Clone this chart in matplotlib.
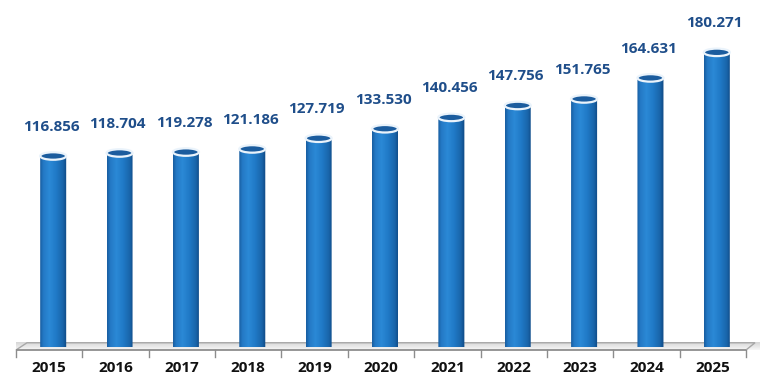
import matplotlib
matplotlib.use('Agg')
import matplotlib.pyplot as plt
import numpy as np
from matplotlib.path import Path
from matplotlib.patches import Ellipse, Polygon, PathPatch
from matplotlib.colors import LinearSegmentedColormap

years = ['2015', '2016', '2017', '2018', '2019', '2020', '2021', '2022', '2023', '2024', '2025']
values = [116.856, 118.704, 119.278, 121.186, 127.719, 133.530, 140.456, 147.756, 151.765, 164.631, 180.271]
value_labels = ['116.856', '118.704', '119.278', '121.186', '127.719', '133.530',
                '140.456', '147.756', '151.765', '164.631', '180.271']

W, H = 768, 386
PX = 1.6345          # pixels per data unit (vertical)
XPX = 66.36          # pixels per category (horizontal)

fig = plt.figure(figsize=(W / 100, H / 100), dpi=100)
fig.patch.set_facecolor('white')
ax = fig.add_axes([16 / W, (H - 347) / H, 730 / W, 347 / H])
ax.axis('off')

font = ['Open Sans', 'DejaVu Sans']

x = np.arange(len(years))
bar_w = 26 / XPX
shift = 4 / XPX
eh = 7.5 / PX  # ellipse full height in data units

cyl = LinearSegmentedColormap.from_list('cyl', [
    (0.0, '#185da0'), (0.12, '#2479c5'), (0.35, '#2b89d6'),
    (0.6, '#207ac7'), (0.85, '#1965aa'), (1.0, '#0f4882')])
floor_cm = LinearSegmentedColormap.from_list('fl', ['#f7f7f7', '#d6d6d6'])

# floor
fy_front = -1.84
fy_back = 2.6
floor_pts = [(-0.5, fy_front), (-0.5 + 11 / XPX, fy_back),
             (10.5 + 9 / XPX, fy_back), (10.5, fy_front)]
floor = Polygon(floor_pts, closed=True, facecolor='none', edgecolor='#a8a8a8',
                lw=1.0, clip_on=False, zorder=2)
ax.add_patch(floor)
fg = np.linspace(0, 1, 50).reshape(-1, 1)
im = ax.imshow(fg, extent=[-0.5, 10.7, fy_front, fy_back], origin='lower',
               aspect='auto', cmap=floor_cm, zorder=1, clip_on=False)
im.set_clip_path(floor)
ax.plot([-0.5, 10.5], [fy_front, fy_front], color='#8c8c8c', lw=1.1,
        clip_on=False, zorder=3, solid_capstyle='butt')
tick_len = 7 / PX
for k in range(len(years) + 1):
    ax.plot([-0.5 + k, -0.5 + k], [fy_front, fy_front - tick_len], color='#8c8c8c',
            lw=1.0, clip_on=False, zorder=3)

# bars
bars = ax.bar(x + shift, values, width=bar_w, color='none', edgecolor='none', zorder=4)
grad = np.linspace(0, 1, 100).reshape(1, -1)
for b, v, lab in zip(bars, values, value_labels):
    x0 = b.get_x()
    x1 = x0 + b.get_width()
    h = b.get_height()
    xc = (x0 + x1) / 2
    t = np.linspace(np.pi, 2 * np.pi, 40)
    arc = np.column_stack([xc + (bar_w / 2) * np.cos(t), (eh / 2) * np.sin(t)])
    verts = np.vstack([[x0, h], arc, [x1, h], [x0, h]])
    codes = [Path.MOVETO] + [Path.LINETO] * (len(verts) - 2) + [Path.CLOSEPOLY]
    body = PathPatch(Path(verts, codes), facecolor='none', edgecolor='none', zorder=4)
    ax.add_patch(body)
    gi = ax.imshow(grad, extent=[x0, x1, -eh, h], aspect='auto', cmap=cyl, zorder=4)
    gi.set_clip_path(body)
    top = Ellipse((xc, h), bar_w, eh, facecolor='#1b5c9e', edgecolor='#eaf3fb',
                  lw=1.6, zorder=5)
    ax.add_patch(top)
    ax.text(xc - 2 / XPX, h + 29 / PX, lab, ha='center', va='center', fontsize=11,
            fontweight='bold', color='#1f4e8a', family=font, zorder=6)

for xi, yr in zip(x, years):
    ax.text(xi, -21 / PX, yr, ha='center', va='center', fontsize=11,
            fontweight='bold', color='#111111', family=font, clip_on=False)

ax.set_xlim(-0.5, 10.5)
ax.set_ylim(0, 347 / PX)

fig.savefig('out.png', dpi=100, facecolor='white')
